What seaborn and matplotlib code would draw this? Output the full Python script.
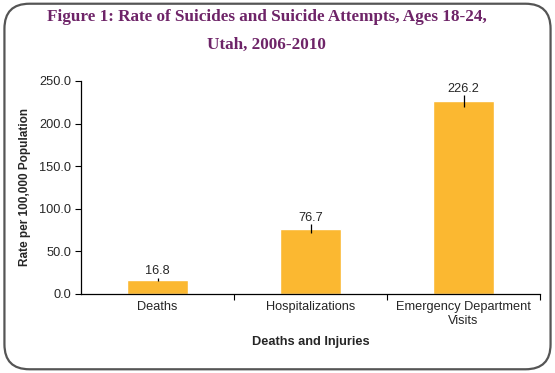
import matplotlib
matplotlib.use('Agg')
import matplotlib.pyplot as plt
from matplotlib.patches import FancyBboxPatch
import seaborn as sns
import pandas as pd

categories = ['Deaths', 'Hospitalizations', 'Emergency Department\nVisits']
rates = [16.8, 76.7, 226.2]
ci_half = [2.0, 5.0, 7.0]
y_ticks = [0, 50, 100, 150, 200, 250]

df = pd.DataFrame({'category': categories, 'rate': rates})

sns.set_style('white')
plt.rcParams['font.family'] = ['Liberation Sans', 'DejaVu Sans']

fig = plt.figure(figsize=(5.55, 3.73), dpi=100)
ax = fig.add_axes([0.146, 0.212, 0.827, 0.571])

# rounded frame round the whole picture
frame = FancyBboxPatch((0.008, 0.01), 0.984, 0.98, boxstyle='round,pad=0,rounding_size=0.045',
                       transform=fig.transFigure, facecolor='none', edgecolor='#555555',
                       linewidth=1.6, mutation_aspect=555 / 373)
fig.patches.append(frame)

sns.barplot(data=df, x='category', y='rate', color='#FBB831', saturation=1, width=0.4, ax=ax)
ax.errorbar(range(len(rates)), rates, yerr=ci_half, fmt='none', ecolor='black', elinewidth=0.9, capsize=0)

for i, v in enumerate(rates):
    ax.annotate(f'{v:.1f}', (i, v + ci_half[i]), xytext=(0, 0.5), textcoords='offset points',
                ha='center', va='bottom', fontsize=9.2)

ax.set_ylim(0, 250)
ax.set_xlim(-0.5, 2.5)
ax.set_yticks(y_ticks)
ax.set_yticklabels([f'{t:.1f}' for t in y_ticks], fontsize=9.2)
ax.tick_params(axis='y', which='major', direction='out', length=4, width=0.8, color='black', left=True, pad=3)
ax.tick_params(axis='x', which='major', length=0, labelsize=9.2, pad=5)
ax.set_xticks([0.5, 1.5, 2.5], minor=True)
ax.tick_params(axis='x', which='minor', direction='out', length=4, width=0.8, color='black', bottom=True)

for side in ['top', 'right']:
    ax.spines[side].set_visible(False)
for side in ['left', 'bottom']:
    ax.spines[side].set_color('black')
    ax.spines[side].set_linewidth(0.9)

ax.set_ylabel('Rate per 100,000 Population', fontsize=8.5, fontweight='bold', labelpad=6)
ax.set_xlabel('Deaths and Injuries', fontsize=9.2, fontweight='bold', labelpad=7)

fig.text(0.48, 0.975, 'Figure 1: Rate of Suicides and Suicide Attempts, Ages 18-24,\nUtah, 2006-2010',
         ha='center', va='top', fontsize=12.3, fontweight='bold', color='#6E2468',
         family=['Liberation Serif', 'DejaVu Serif'], linespacing=1.95)

fig.savefig('out.png', dpi=100)
